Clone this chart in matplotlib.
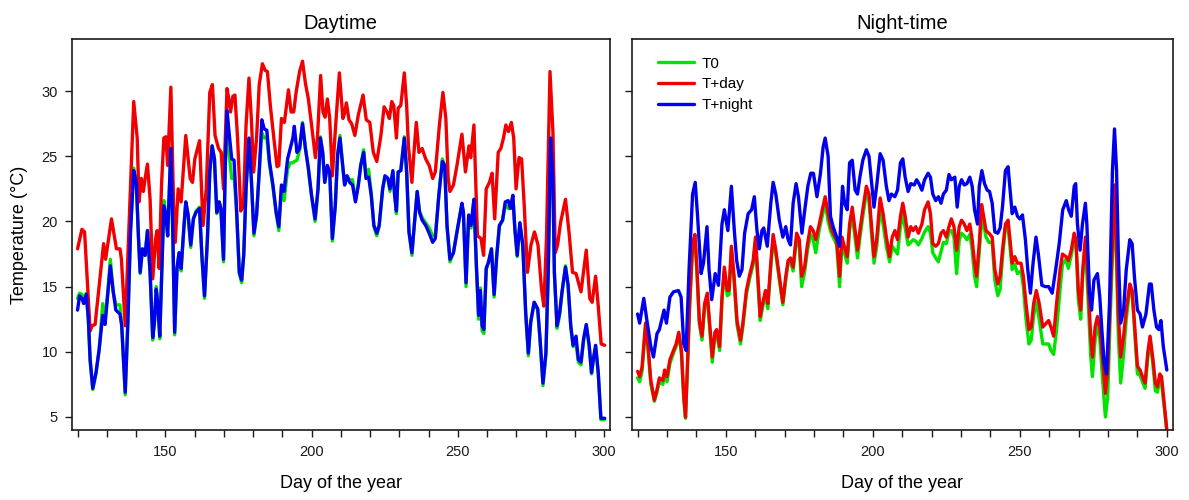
import matplotlib
matplotlib.use("Agg")
import matplotlib.pyplot as plt
from matplotlib.ticker import MultipleLocator, FuncFormatter

plt.rcParams['font.family'] = ['Liberation Sans', 'DejaVu Sans']

# ---------------- data ----------------
series_labels = ["T0", "T+day", "T+night"]
panel_titles = ["Daytime", "Night-time"]
x_label = "Day of the year"
y_label = "Temperature (°C)"
y_ticks = [5, 10, 15, 20, 25, 30]

# Daytime panel: T+day (red)
day_L_red = [120.0, 121.5, 122.4, 124.3, 125.0, 126.0, 128.9, 129.6, 131.6, 133.3, 134.5, 135.0, 136.3, 137.5,
             139.2, 140.4, 141.0, 141.8, 142.5, 143.1, 143.9, 144.8, 145.7, 146.7, 147.2, 147.9, 148.7, 149.5,
             150.2, 150.8, 151.9, 152.8, 153.4, 154.4, 155.4, 157.0, 158.5, 159.3, 160.1, 161.7, 162.9, 164.0,
             165.2, 166.1, 167.0, 168.2, 169.1, 169.9, 171.1, 171.7, 172.3, 173.1, 173.8, 174.7, 175.8, 176.7,
             177.6, 178.6, 179.4, 180.2, 181.2, 182.1, 183.2, 184.1, 184.9, 185.9, 187.1, 188.2, 188.8, 189.7,
             190.7, 192.1, 193.0, 193.9, 194.7, 195.9, 196.9, 197.9, 198.9, 200.0, 201.3, 202.0, 203.1, 203.9,
             204.6, 205.4, 206.2, 207.1, 208.3, 209.5, 210.7, 211.3, 211.9, 212.8, 213.7, 214.8, 216.0, 217.6,
             218.7, 219.9, 221.1, 222.3, 223.7, 224.8, 225.8, 226.6, 227.4, 228.1, 229.0, 229.6, 230.5, 231.7,
             232.5, 233.1, 234.3, 235.1, 235.8, 236.7, 237.8, 239.0, 240.2, 241.4, 242.3, 243.7, 244.9, 245.9,
             246.7, 247.3, 248.5, 249.7, 251.4, 252.6, 253.8, 254.4, 255.5, 256.7, 257.9, 258.8, 259.7, 260.8,
             261.7, 262.6, 263.8, 264.7, 265.6, 266.4, 267.3, 268.3, 269.1, 269.9, 270.9, 271.8, 272.7, 273.8,
             275.0, 276.2, 277.4, 278.6, 279.4, 280.3, 281.5, 282.5, 283.3, 284.1, 285.1, 286.8, 288.0, 289.2,
             290.4, 292.1, 293.9, 295.1, 295.9, 297.1, 298.0, 299.0, 300.2]
L_red = [17.9, 19.4, 19.2, 11.6, 12.0, 12.1, 18.3, 17.1, 20.2, 17.9, 17.9, 17.1, 12.0, 19.2,
         29.2, 26.4, 21.5, 23.3, 22.3, 23.3, 24.4, 21.7, 15.6, 18.7, 19.3, 16.4, 22.8, 26.4,
         26.5, 24.3, 30.3, 21.5, 18.4, 22.5, 21.5, 26.6, 23.3, 23.0, 24.8, 26.2, 19.7, 22.5,
         29.9, 30.5, 26.6, 25.6, 25.3, 22.5, 30.2, 29.4, 28.4, 29.6, 29.7, 26.4, 20.8, 21.2,
         27.4, 31.0, 27.9, 23.8, 26.4, 30.5, 32.1, 31.6, 31.5, 28.9, 26.4, 24.2, 24.3, 27.9,
         27.6, 30.1, 28.4, 28.4, 29.9, 31.5, 32.3, 30.6, 29.4, 27.4, 24.9, 26.4, 31.2, 28.4,
         28.0, 29.4, 27.9, 23.5, 27.6, 31.4, 27.9, 28.3, 29.1, 27.8, 27.5, 26.6, 28.2, 29.7,
         27.8, 27.6, 25.3, 24.6, 26.6, 28.8, 28.4, 27.9, 29.2, 28.9, 26.4, 28.7, 28.9, 31.4,
         28.9, 25.8, 23.0, 25.6, 27.6, 25.3, 25.6, 24.8, 24.3, 23.3, 23.8, 27.4, 29.9, 27.9,
         23.3, 22.3, 22.8, 24.3, 26.7, 23.8, 25.8, 24.9, 27.4, 18.9, 18.7, 17.4, 22.5, 23.0,
         23.7, 20.2, 25.3, 25.6, 26.4, 27.4, 26.9, 27.6, 26.4, 22.5, 24.9, 24.8, 21.2, 16.1,
         18.2, 19.2, 18.2, 14.8, 13.5, 18.7, 31.5, 26.9, 17.6, 18.2, 19.9, 21.7, 19.2, 16.1,
         16.0, 14.6, 17.8, 14.1, 13.8, 15.8, 13.5, 10.6, 10.5]

# Daytime panel: T+night (blue) and T0 (green) share the same day positions
day_L_bg = [120.0, 120.7, 121.5, 122.1, 123.0, 123.7, 124.3, 125.2, 126.3, 127.4, 128.6, 129.4, 130.4, 131.2,
            132.2, 133.1, 134.5, 135.1, 136.3, 137.2, 138.1, 139.2, 140.1, 140.8, 141.4, 142.2, 143.1, 143.9,
            144.8, 145.7, 146.3, 146.9, 147.5, 148.1, 148.8, 149.5, 150.2, 150.8, 151.9, 152.6, 153.2, 154.0,
            154.7, 155.4, 156.4, 157.0, 157.8, 158.7, 159.6, 160.5, 161.7, 162.5, 163.4, 164.4, 165.2, 166.0,
            166.8, 167.6, 168.4, 169.0, 169.9, 170.5, 171.1, 171.9, 172.7, 173.5, 174.3, 175.3, 176.1, 176.8,
            177.6, 178.6, 179.4, 180.3, 181.2, 182.1, 183.0, 183.8, 184.7, 185.6, 186.8, 187.9, 188.8, 189.7,
            190.6, 191.8, 192.7, 193.6, 194.1, 195.0, 195.9, 196.9, 197.9, 198.9, 200.0, 201.2, 202.2, 203.0,
            203.8, 204.5, 205.4, 206.2, 207.1, 208.1, 208.9, 209.7, 210.7, 211.3, 212.1, 213.0, 214.0, 215.0,
            216.0, 216.8, 217.8, 218.6, 219.5, 220.4, 221.3, 222.3, 223.1, 224.3, 225.1, 226.1, 226.8, 227.8,
            228.4, 229.0, 229.6, 230.5, 231.7, 232.5, 233.3, 234.3, 235.1, 236.1, 236.9, 237.8, 239.0, 240.2,
            241.4, 242.3, 243.5, 244.7, 245.5, 246.3, 247.3, 248.5, 249.7, 251.4, 251.9, 252.8, 253.7, 254.5,
            255.5, 256.3, 257.1, 257.7, 258.3, 258.9, 259.7, 260.5, 261.5, 262.4, 263.3, 264.2, 265.3, 266.2,
            267.2, 268.0, 268.8, 269.5, 270.3, 271.2, 272.2, 273.2, 274.1, 274.9, 276.1, 277.3, 278.1, 279.1,
            280.1, 280.9, 281.7, 282.5, 283.0, 283.9, 284.8, 285.6, 286.8, 287.7, 288.6, 289.4, 290.4, 291.2,
            292.1, 293.0, 293.9, 294.9, 295.7, 296.3, 297.1, 298.0, 298.9, 300.2]
L_blue = [13.2, 14.3, 14.1, 13.7, 14.4, 12.5, 9.4, 7.2, 8.4, 10.2, 12.8, 12.1, 14.6, 16.6,
          14.6, 13.2, 12.9, 12.0, 6.9, 12.3, 19.2, 23.9, 23.0, 18.9, 16.1, 17.9, 17.4, 19.3,
          16.1, 11.1, 12.3, 14.8, 13.5, 11.2, 16.1, 21.2, 20.5, 18.9, 25.6, 18.7, 11.5, 16.4,
          17.6, 16.4, 19.7, 21.5, 20.5, 18.2, 20.2, 20.7, 21.0, 17.4, 14.3, 18.7, 23.8, 25.8,
          24.8, 20.7, 21.5, 21.0, 17.1, 24.3, 28.5, 26.6, 24.8, 24.7, 21.2, 16.1, 15.5, 17.4,
          22.5, 26.4, 23.3, 19.1, 20.5, 23.8, 27.8, 27.1, 27.0, 24.6, 22.8, 20.7, 19.6, 22.8,
          22.3, 24.8, 25.6, 26.4, 27.3, 25.3, 25.6, 27.5, 25.6, 24.1, 22.0, 20.2, 22.5, 26.4,
          25.3, 23.0, 24.3, 23.8, 18.7, 21.2, 25.1, 26.4, 24.1, 22.8, 23.5, 23.0, 22.8, 21.5,
          22.8, 24.3, 25.3, 23.3, 23.4, 22.0, 19.7, 19.1, 19.7, 22.5, 23.5, 23.3, 22.5, 23.9,
          22.0, 20.8, 23.8, 23.9, 26.4, 23.8, 19.2, 17.6, 19.7, 22.3, 20.7, 20.1, 19.7, 19.1,
          18.4, 18.7, 22.0, 24.6, 24.3, 19.7, 17.1, 17.6, 19.2, 21.4, 20.7, 15.3, 20.5, 19.7,
          21.7, 16.9, 12.8, 14.7, 12.0, 11.7, 16.4, 16.9, 17.9, 14.4, 17.4, 19.7, 20.1, 21.5,
          21.6, 21.0, 22.0, 19.4, 17.4, 19.9, 18.2, 13.0, 9.9, 12.3, 13.8, 13.3, 11.0, 7.6,
          9.9, 16.1, 26.4, 23.3, 16.1, 12.0, 13.0, 14.6, 16.5, 15.1, 12.0, 10.5, 11.2, 9.4,
          9.2, 11.0, 12.1, 10.5, 8.4, 9.4, 10.5, 8.4, 4.9, 4.9]
L_green = [14.1, 14.5, 14.4, 13.9, 14.5, 12.4, 9.3, 7.1, 8.3, 10.2, 13.7, 12.4, 14.8, 17.1,
           14.6, 13.6, 13.6, 12.0, 6.7, 12.2, 19.2, 24.1, 23.0, 18.9, 16.0, 17.9, 17.4, 19.3,
           16.0, 10.9, 12.3, 15.0, 13.5, 11.0, 16.1, 21.6, 20.6, 18.9, 25.6, 18.7, 11.3, 16.4,
           17.6, 16.2, 19.7, 21.5, 20.5, 18.0, 20.2, 20.8, 21.1, 17.3, 14.1, 18.7, 23.8, 25.8,
           24.8, 20.6, 21.5, 21.0, 16.9, 24.3, 28.3, 25.0, 23.3, 23.5, 21.0, 16.0, 15.3, 17.4,
           22.5, 26.3, 23.3, 18.9, 20.5, 23.8, 26.8, 26.4, 26.5, 24.4, 22.6, 20.6, 19.3, 22.5,
           21.6, 24.0, 24.5, 24.5, 24.6, 24.7, 25.5, 27.6, 25.6, 24.0, 21.9, 20.0, 22.4, 26.5,
           25.3, 23.0, 24.2, 23.8, 18.5, 21.2, 25.1, 26.6, 24.1, 22.8, 23.5, 23.2, 23.2, 21.6,
           22.9, 24.3, 25.5, 23.5, 24.0, 22.2, 19.6, 18.9, 19.6, 22.5, 23.5, 23.3, 22.3, 23.8,
           22.0, 20.6, 23.8, 23.9, 26.5, 23.8, 19.2, 17.4, 19.7, 22.3, 20.8, 20.3, 19.9, 19.5,
           18.9, 18.9, 22.0, 24.8, 24.3, 19.6, 16.9, 17.6, 19.2, 21.3, 20.7, 15.0, 20.3, 19.5,
           21.7, 16.6, 12.5, 14.9, 11.6, 11.4, 16.3, 16.9, 17.9, 14.2, 17.4, 19.6, 20.1, 21.3,
           21.0, 21.0, 22.0, 19.4, 17.3, 19.9, 18.1, 12.9, 9.7, 12.2, 13.8, 13.2, 10.9, 7.4,
           9.8, 16.0, 26.0, 23.3, 16.0, 11.8, 12.8, 14.5, 16.6, 15.0, 11.9, 10.4, 10.6, 9.2,
           9.0, 10.9, 12.0, 10.4, 8.3, 9.3, 10.4, 8.3, 4.8, 4.8]

# Night-time panel: T+night (blue)
day_R_blue = [120.0, 120.7, 122.1, 123.3, 124.5, 125.4, 126.6, 127.4, 129.0, 129.8, 131.0, 132.2, 133.9, 134.8,
              135.7, 136.5, 137.5, 138.7, 139.6, 140.4, 141.6, 142.4, 143.6, 144.3, 145.2, 146.4, 147.5, 148.7,
              149.5, 150.7, 151.9, 152.9, 153.7, 154.6, 155.5, 156.4, 157.6, 158.8, 159.7, 160.6, 161.4, 162.3,
              162.9, 164.1, 165.3, 166.1, 167.0, 168.2, 169.4, 170.4, 171.2, 172.0, 172.9, 173.9, 174.7, 175.9,
              176.7, 177.9, 178.9, 179.8, 181.0, 182.2, 183.1, 183.8, 184.8, 185.6, 186.5, 187.7, 188.7, 189.7,
              190.4, 191.3, 192.1, 193.0, 194.0, 194.8, 195.6, 196.6, 197.8, 198.7, 199.5, 200.4, 201.3, 202.5,
              203.5, 204.6, 205.5, 206.3, 207.5, 208.4, 209.4, 210.2, 211.0, 212.0, 212.9, 214.1, 214.9, 215.7,
              216.7, 217.6, 218.8, 219.6, 220.4, 221.4, 222.3, 223.2, 224.0, 225.0, 225.9, 226.7, 227.9, 228.7,
              229.4, 230.2, 231.1, 232.0, 233.0, 233.8, 234.6, 235.6, 236.2, 237.1, 238.0, 238.9, 239.7, 240.6,
              241.5, 242.5, 243.3, 244.1, 245.1, 246.0, 246.8, 247.4, 248.3, 249.2, 250.0, 250.9, 251.9, 252.7,
              253.6, 254.5, 255.5, 256.3, 257.5, 258.7, 259.8, 261.0, 262.2, 263.4, 264.6, 265.8, 266.6, 267.5,
              268.5, 269.0, 269.6, 270.5, 271.3, 272.3, 272.8, 273.7, 274.4, 275.2, 276.4, 277.2, 277.9, 278.7,
              279.5, 280.5, 281.5, 282.2, 282.9, 283.5, 284.3, 285.3, 286.2, 287.4, 288.2, 289.0, 290.0, 290.9,
              291.7, 292.9, 294.1, 294.7, 295.6, 296.5, 297.3, 298.0, 298.8, 300.0]
R_blue = [12.9, 12.2, 14.1, 12.2, 10.4, 9.6, 11.4, 11.7, 13.2, 12.2, 14.2, 14.6, 14.7, 14.2,
          10.6, 10.1, 16.3, 22.1, 23.0, 20.4, 16.0, 16.8, 19.6, 16.3, 14.0, 16.0, 15.1, 19.8,
          20.9, 19.3, 22.7, 19.3, 17.0, 15.8, 16.3, 19.1, 20.6, 20.9, 21.9, 19.3, 17.9, 19.3,
          19.5, 18.1, 21.4, 23.0, 22.1, 20.1, 18.8, 19.6, 18.6, 18.2, 21.4, 22.9, 21.9, 19.1,
          20.6, 22.7, 23.7, 23.7, 21.9, 23.7, 25.7, 26.4, 25.0, 20.4, 19.6, 18.8, 18.1, 22.7,
          21.4, 20.9, 24.5, 24.7, 22.4, 22.1, 23.4, 24.7, 25.5, 25.0, 23.2, 21.1, 22.7, 25.2,
          24.7, 22.7, 21.6, 22.1, 21.9, 22.4, 24.5, 24.8, 23.4, 22.3, 22.9, 22.8, 23.2, 22.9,
          22.4, 23.2, 23.7, 23.4, 22.1, 21.6, 21.9, 21.4, 22.1, 22.4, 23.6, 23.2, 23.4, 21.1,
          22.7, 23.2, 22.8, 22.9, 23.4, 22.7, 20.9, 19.8, 22.7, 23.9, 22.9, 22.4, 22.3, 21.4,
          19.2, 19.1, 19.5, 21.1, 23.9, 24.2, 22.1, 20.6, 21.1, 20.4, 20.2, 20.5, 18.6, 16.3,
          14.5, 16.8, 18.8, 17.5, 15.1, 15.0, 15.0, 14.5, 16.3, 18.3, 20.9, 21.6, 20.9, 20.4,
          22.7, 22.9, 19.8, 17.8, 19.8, 21.4, 19.8, 14.5, 13.2, 15.5, 16.0, 14.2, 11.7, 9.1,
          8.3, 13.7, 23.9, 27.1, 23.9, 17.5, 12.2, 13.2, 16.3, 18.6, 18.3, 15.7, 13.2, 12.9,
          11.9, 12.9, 15.2, 15.2, 13.2, 11.9, 11.7, 12.4, 10.4, 8.6]

# Night-time panel: T+day (red) and T0 (green) share the same day positions
day_R_rg = [120.0, 120.7, 121.5, 122.7, 123.5, 124.5, 125.7, 126.6, 127.4, 128.6, 129.2, 130.0, 131.0, 132.2,
            133.1, 134.0, 134.9, 135.7, 136.3, 136.9, 137.7, 138.7, 139.5, 140.2, 141.0, 141.9, 142.8, 143.7,
            144.6, 145.4, 146.3, 146.9, 147.9, 148.7, 149.5, 150.5, 151.1, 151.9, 152.8, 153.8, 155.0, 155.8,
            157.0, 158.1, 159.3, 160.1, 160.9, 161.7, 162.5, 163.5, 164.3, 165.3, 166.1, 167.0, 168.2, 169.4,
            170.4, 171.2, 172.0, 172.9, 174.1, 175.0, 175.8, 176.8, 177.8, 178.8, 179.7, 180.6, 181.8, 183.0,
            183.8, 184.8, 185.7, 186.5, 187.7, 188.7, 189.5, 190.3, 191.3, 192.1, 193.0, 194.0, 194.8, 195.6,
            196.6, 197.8, 198.7, 199.5, 200.4, 201.3, 202.5, 203.5, 204.6, 205.7, 206.6, 207.5, 208.4, 209.4,
            210.2, 211.0, 212.0, 212.9, 213.7, 214.6, 215.5, 216.7, 217.6, 218.8, 219.6, 220.4, 221.4, 222.3,
            223.2, 224.0, 225.0, 225.9, 226.7, 227.6, 228.5, 229.4, 230.2, 231.1, 232.0, 233.0, 233.8, 234.6,
            235.3, 236.2, 237.0, 237.7, 238.5, 239.5, 240.6, 241.5, 242.5, 243.3, 244.1, 245.1, 246.0, 246.8,
            247.4, 248.3, 249.2, 250.4, 251.2, 252.1, 253.1, 253.9, 254.7, 255.6, 256.6, 257.8, 259.0, 259.8,
            260.6, 261.5, 262.5, 263.7, 264.5, 265.7, 266.5, 267.5, 268.5, 269.1, 269.9, 270.7, 271.4, 272.3,
            273.1, 274.1, 274.7, 275.6, 276.4, 277.2, 278.1, 279.1, 279.9, 280.7, 281.7, 282.3, 282.9, 283.5,
            284.3, 285.3, 286.2, 287.4, 288.2, 289.0, 290.0, 290.9, 291.7, 292.6, 293.5, 294.3, 295.3, 296.1,
            296.8, 297.6, 298.2, 300.0]
R_red = [8.5, 8.1, 8.8, 12.2, 10.6, 7.8, 6.3, 7.1, 8.0, 7.8, 8.6, 8.1, 9.4, 10.1,
         10.6, 11.5, 10.1, 6.6, 5.0, 8.6, 13.7, 18.3, 19.0, 16.3, 12.4, 11.2, 13.7, 14.5,
         11.9, 9.6, 11.5, 11.7, 10.4, 14.2, 16.5, 14.7, 14.7, 18.1, 15.8, 12.4, 10.9, 12.2,
         14.7, 15.9, 17.0, 18.8, 15.8, 12.7, 13.7, 14.7, 13.7, 16.8, 19.0, 17.8, 15.8, 13.8,
         15.8, 17.0, 17.2, 16.5, 19.1, 18.6, 15.8, 16.5, 18.3, 19.6, 19.3, 18.6, 19.8, 21.1,
         21.9, 20.6, 19.6, 19.1, 18.6, 15.8, 18.8, 18.1, 17.3, 19.8, 21.1, 19.3, 17.8, 19.3,
         20.9, 22.7, 22.1, 19.8, 17.3, 18.6, 21.8, 20.6, 18.8, 17.3, 18.8, 19.3, 18.6, 20.4,
         21.4, 20.4, 18.8, 19.6, 19.3, 19.6, 19.1, 19.8, 20.9, 21.5, 20.6, 18.3, 18.1, 18.3,
         19.1, 19.3, 18.8, 19.6, 20.2, 19.6, 17.8, 19.6, 20.1, 19.8, 19.3, 19.8, 18.6, 16.8,
         15.8, 18.3, 21.3, 20.4, 19.3, 19.1, 18.8, 16.3, 15.2, 15.8, 17.8, 19.8, 20.1, 18.3,
         16.8, 17.3, 16.8, 16.8, 15.8, 13.7, 11.7, 11.9, 13.7, 14.7, 13.7, 11.9, 12.2, 12.4,
         11.9, 11.2, 13.7, 16.3, 17.5, 17.3, 17.0, 17.8, 19.1, 18.6, 14.7, 13.2, 16.3, 18.8,
         15.8, 11.2, 9.6, 11.9, 12.7, 11.9, 9.6, 6.8, 8.6, 13.7, 19.8, 22.8, 17.8, 12.9,
         9.6, 11.2, 13.2, 15.2, 14.7, 12.2, 8.9, 8.6, 8.1, 7.6, 9.9, 11.2, 9.4, 7.6,
         7.3, 8.3, 8.1, 4.0]
R_green = [8.0, 7.7, 8.5, 11.8, 10.3, 7.5, 6.2, 6.9, 7.7, 7.5, 8.3, 7.7, 9.1, 9.9,
           10.4, 11.3, 9.9, 6.4, 4.9, 8.4, 13.4, 18.0, 18.8, 16.0, 12.1, 10.9, 13.4, 14.2,
           11.5, 9.2, 11.2, 11.4, 10.1, 13.9, 16.2, 14.3, 14.4, 17.8, 15.5, 12.1, 10.6, 11.9,
           14.4, 15.6, 16.7, 18.5, 15.5, 12.4, 13.4, 14.4, 13.3, 16.5, 18.7, 17.5, 15.5, 13.6,
           15.5, 16.8, 16.9, 16.2, 18.8, 18.0, 15.0, 16.1, 17.8, 19.0, 18.6, 17.6, 19.4, 20.6,
           21.4, 20.0, 19.2, 18.8, 18.2, 15.0, 18.3, 17.6, 16.8, 19.3, 20.5, 18.7, 17.2, 18.7,
           20.4, 22.2, 21.6, 19.2, 16.8, 18.0, 21.0, 19.8, 18.1, 16.9, 18.1, 17.8, 17.5, 19.6,
           20.6, 19.5, 18.2, 18.4, 18.6, 18.5, 18.2, 18.7, 19.2, 19.6, 19.1, 17.6, 17.2, 16.9,
           17.7, 18.4, 18.3, 19.2, 19.3, 18.8, 16.0, 18.6, 19.1, 18.9, 18.6, 19.0, 17.8, 15.8,
           15.0, 17.6, 20.0, 19.8, 18.8, 18.4, 18.4, 15.5, 14.3, 14.8, 17.2, 19.5, 19.6, 17.7,
           16.3, 16.7, 16.0, 16.2, 15.0, 12.5, 10.6, 10.9, 12.8, 13.8, 12.5, 10.6, 10.6, 10.6,
           10.1, 9.8, 11.7, 14.8, 16.7, 17.1, 16.4, 17.4, 18.7, 18.2, 14.0, 12.5, 15.8, 18.3,
           14.6, 9.7, 8.1, 10.9, 12.2, 11.0, 8.0, 5.0, 6.6, 12.4, 18.5, 20.5, 16.8, 11.2,
           7.6, 9.8, 12.5, 14.8, 14.5, 11.7, 8.3, 8.2, 7.7, 7.2, 9.5, 10.9, 8.9, 7.0,
           6.9, 7.9, 7.6, 3.9]

colors = {"T0": "#00e400", "T+day": "#f00000", "T+night": "#0000ee"}

# ---------------- figure ----------------
fig = plt.figure(figsize=(11.89, 5.0), dpi=100)
ax1 = fig.add_axes([0.0603, 0.14, 0.4527, 0.782])
ax2 = fig.add_axes([0.5313, 0.14, 0.455, 0.782])

lw = 2.4
kw = dict(lw=lw, solid_joinstyle='round', solid_capstyle='round')
ax1.plot(day_L_bg, L_green, color=colors["T0"], label="T0", **kw)
ax1.plot(day_L_red, L_red, color=colors["T+day"], label="T+day", **kw)
ax1.plot(day_L_bg, L_blue, color=colors["T+night"], label="T+night", **kw)

ax2.plot(day_R_rg, R_green, color=colors["T0"], label="T0", **kw)
ax2.plot(day_R_rg, R_red, color=colors["T+day"], label="T+day", **kw)
ax2.plot(day_R_blue, R_blue, color=colors["T+night"], label="T+night", **kw)

fmt = FuncFormatter(lambda v, p: f"{int(round(v))}" if abs(v - 50 * round(v / 50)) < 1e-6 else "")

for i, ax in enumerate((ax1, ax2)):
    ax.set_xlim(118, 302)
    ax.set_ylim(4, 34)
    ax.set_yticks(y_ticks)
    ax.xaxis.set_major_locator(MultipleLocator(10))
    ax.xaxis.set_major_formatter(fmt)
    ax.tick_params(axis='both', direction='out', length=5, width=1.0, labelsize=10.5, colors='#1a1a1a')
    ax.tick_params(axis='x', pad=6)
    ax.tick_params(axis='y', pad=5)
    for s in ax.spines.values():
        s.set_linewidth(1.2)
        s.set_color('#1a1a1a')
    ax.set_title(panel_titles[i], fontsize=14.5, pad=7)
    ax.set_xlabel(x_label, fontsize=13, labelpad=11)

ax1.set_ylabel(y_label, fontsize=13, labelpad=10)
ax2.tick_params(axis='y', labelleft=False)

ax2.legend(loc='upper left', bbox_to_anchor=(0.048, 0.955), frameon=False, fontsize=11,
           handlelength=2.4, handletextpad=0.45, labelspacing=0.45, borderpad=0, borderaxespad=0)

fig.savefig("out.png", dpi=100)
